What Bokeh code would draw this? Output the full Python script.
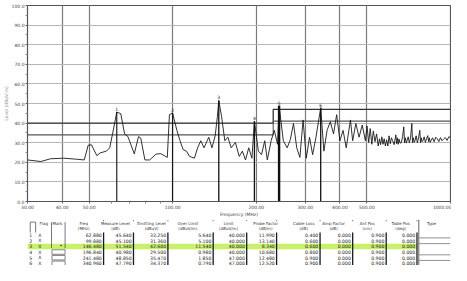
from bokeh.plotting import figure
from bokeh.layouts import column
from bokeh.models import Range1d, FixedTicker, PrintfTickFormatter, ColumnDataSource
from bokeh.core.properties import value
from bokeh.embed import file_html
from bokeh.resources import INLINE

# ---------------- data ----------------
trace_freq = [30.0, 33.5, 36.3, 40.4, 44.9, 48.0, 48.8, 49.6, 51.0, 53.3, 54.8, 57.7, 59.3, 60.9,
              62.88, 65.0, 67.1, 69.0, 72.7, 75.3, 76.7, 79.4, 82.6, 87.1, 90.6, 95.6, 97.3, 99.88,
              103.5, 106.2, 109.0, 112.0, 115.0, 119.7, 122.9, 126.2, 129.6, 134.8, 138.4, 142.2,
              144.8, 146.48, 149.9, 154.0, 158.0, 162.3, 168.1, 173.5, 178.1, 182.8, 187.8, 192.8,
              196.84, 203.4, 208.8, 214.4, 219.0, 226.1, 232.1, 238.4, 241.48, 250.1, 258.2, 265.0,
              272.1, 279.5, 287.0, 294.6, 302.6, 310.8, 318.9, 327.8, 340.96, 350.1, 359.4, 369.3,
              379.2, 389.2, 399.9, 410.4, 421.3, 436.3, 444.4, 456.3, 468.7, 481.1, 493.9, 500.5,
              507.5, 514.0, 520.8, 527.5, 534.7, 541.8, 549.3, 555.0, 560.0, 566.0, 571.5, 577.0,
              583.0, 589.0, 594.9, 601.0, 607.0, 613.0, 619.1, 627.0, 635.5, 640.0, 644.0, 648.0,
              652.4, 658.0, 665.0, 672.0, 678.9, 683.0, 688.0, 693.0, 697.5, 704.0, 711.0, 718.0,
              725.7, 730.0, 735.0, 740.0, 744.9, 752.0, 760.0, 768.0, 775.3, 780.0, 785.0, 790.0,
              795.9, 804.0, 812.0, 820.0, 828.2, 834.0, 840.0, 845.0, 850.7, 862.0, 873.0, 885.0,
              896.8, 908.0, 920.0, 932.0, 945.7, 958.0, 972.0, 986.0, 1000.0]
trace_level = [21.2, 20.4, 21.8, 22.1, 21.6, 21.2, 24.8, 28.7, 28.9, 23.4, 24.8, 25.7, 27.4, 35.4,
               45.6, 44.8, 34.5, 33.1, 24.3, 33.1, 32.4, 21.2, 21.2, 24.2, 24.4, 22.5, 44.3, 45.1,
               36.3, 31.0, 26.5, 25.7, 23.0, 22.1, 27.4, 31.0, 27.4, 32.8, 27.4, 33.6,
               43.4, 51.54, 43.4, 31.0, 32.8, 27.4, 30.1, 23.0, 25.7, 21.2, 27.4, 22.1,
               40.98, 25.7, 23.9, 31.0, 21.2, 31.0, 36.3, 29.2, 48.85, 31.0, 27.4, 31.5,
               39.8, 27.4, 22.5, 41.6, 22.1, 32.8, 23.9, 32.8, 47.79, 25.7, 36.3, 40.7,
               34.5, 44.3, 31.0, 36.3, 27.4, 41.6, 31.0, 39.8, 32.8, 39.0, 31.0, 38.5,
               30.0, 37.2, 29.2, 36.0, 30.5, 34.5, 28.3, 32.0, 29.0, 33.0, 29.2, 32.0,
               28.3, 31.5, 28.3, 33.5, 29.5, 32.5, 31.0, 29.0, 34.0, 29.5, 32.5, 29.2,
               31.9, 29.8, 30.0, 33.0, 38.1, 30.0, 32.5, 29.8, 31.0, 33.0, 30.0, 32.5,
               39.8, 30.0, 32.5, 30.2, 31.0, 33.5, 30.0, 32.8, 36.3, 30.0, 32.5, 30.5,
               31.0, 33.0, 30.2, 32.0, 33.6, 30.5, 32.5, 30.2, 31.0, 32.5, 30.5, 32.8,
               31.9, 30.6, 32.6, 31.0, 31.9, 32.6, 31.2, 33.0, 32.8]

limit_freq = [30.0, 230.0, 230.0, 1000.0]
limit_level = [40.0, 40.0, 47.0, 47.0]
margin_level = [34.0, 34.0, 41.0, 41.0]

x_ticks = [30, 40, 50, 100, 200, 300, 400, 500, 1000]
x_minor = [60, 70, 80, 90]
y_ticks = [0, 10, 20, 30, 40, 50, 60, 70, 80, 90, 100]
y_minor = [5, 15, 25, 35, 45, 55, 65, 75, 85, 95]

row_no = ["1", "2", "3", "4", "5", "6"]
row_flag = ["X", "X", "X", "X", "X", "X"]
tab_freq = [62.880, 99.880, 146.480, 196.840, 241.480, 340.960]
tab_level = [45.640, 45.100, 51.540, 40.980, 48.850, 47.790]
tab_reading = [33.250, 31.360, 42.600, 29.500, 35.470, 34.370]
tab_over = [5.640, 5.100, 11.540, 0.980, 1.850, 0.790]
tab_limit = [40.000, 40.000, 40.000, 40.000, 47.000, 47.000]
tab_probe = [11.990, 13.140, 8.340, 10.680, 12.480, 12.520]
tab_cable = [0.400, 0.600, 0.600, 0.800, 0.900, 0.900]
tab_amp = [0.000, 0.000, 0.000, 0.000, 0.000, 0.000]
tab_antpos = [0.900, 0.900, 0.900, 0.900, 0.900, 0.900]
tab_tablepos = [0.000, 0.000, 0.000, 0.000, 0.000, 0.000]
selected_row = 2

headers_1 = ["Freq", "Measure Level", "Emitting Level", "Over Limit", "Limit",
             "Probe Factor", "Cable Loss", "Amp Factor", "Ant Pos", "Table Pos"]
headers_2 = ["(MHz)", "(dB)", "(dBuV)", "(dBuV/m)", "(dBuV/m)", "(dB/m)", "(dB)", "(dB)", "(cm)", "(deg)"]

FONT = "DejaVu Sans"

# ---------------- spectrum plot ----------------
p = figure(width=451, height=219, x_axis_type="log",
           x_range=Range1d(30, 1000), y_range=Range1d(0, 100),
           output_backend="svg", toolbar_location=None,
           min_border_left=16, min_border_right=1, min_border_top=5, min_border_bottom=10)
p.background_fill_color = "white"
p.outline_line_color = "#555555"
p.outline_line_width = 1.2

p.xaxis.ticker = FixedTicker(ticks=x_ticks, minor_ticks=x_minor)
p.xaxis.formatter = PrintfTickFormatter(format="%.2f")
p.yaxis.ticker = FixedTicker(ticks=y_ticks, minor_ticks=y_minor)
p.yaxis.formatter = PrintfTickFormatter(format="%.1f")
for ax in (p.xaxis[0], p.yaxis[0]):
    ax.axis_line_color = "#555555"
    ax.major_tick_line_color = "#666666"
    ax.minor_tick_line_color = "#888888"
    ax.major_tick_out = 2
    ax.major_tick_in = 0
    ax.minor_tick_out = 2
    ax.minor_tick_in = 0
    ax.major_label_text_font_size = "4.5px"
    ax.major_label_text_color = "#444444"
    ax.major_label_text_font = FONT
    ax.major_label_standoff = 1
    ax.axis_label_text_font_size = "4.5px"
    ax.axis_label_text_font_style = "normal"
    ax.axis_label_text_font = FONT
    ax.axis_label_standoff = 0
p.xaxis.axis_label = "Frequency (MHz)"
p.xaxis.axis_label_text_color = "#444444"
p.yaxis.axis_label = "Level (dBuV/m)"
p.yaxis.axis_label_text_color = "#999999"

p.xgrid.grid_line_color = "#7a7a7a"
p.xgrid.grid_line_width = 1.2
p.ygrid.grid_line_color = "#b5b5b5"
p.ygrid.grid_line_width = 1.2

p.line(limit_freq, limit_level, line_color="#333333", line_width=1.3)
p.line(limit_freq, margin_level, line_color="#555555", line_width=1.1)

p.line(trace_freq, trace_level, line_color="#1a1a1a", line_width=0.9)

mk_src = ColumnDataSource(dict(f=tab_freq, lv=tab_level, base=[0.0] * len(tab_freq),
                               lab=row_no, w=[1.1, 1.1, 1.3, 1.3, 2.4, 1.3]))
p.segment(x0="f", y0="base", x1="f", y1="lv", source=mk_src, line_color="#111111", line_width="w")
p.text(x="f", y="lv", text="lab", source=mk_src, text_font_size="4.5px", text_align="center",
       text_baseline="bottom", y_offset=-1, text_color="#111111", text_font=value(FONT))

# ---------------- table ----------------
col_edge = [84, 117, 155, 205, 242, 275, 323, 359, 396, 430]
col_head = [62, 97, 137, 177, 222, 263, 305, 338, 375, 412]
row_y = [244.0, 250.5, 257.0, 263.5, 270.0, 276.5]
head_y1, head_y2 = 231.0, 236.5

t = figure(width=451, height=46, x_range=Range1d(0, 467), y_range=Range1d(279, 226),
           output_backend="svg", toolbar_location=None, min_border=0)
t.axis.visible = False
t.grid.visible = False
t.outline_line_color = None

# selected row highlight
sel = row_y[selected_row]
t.quad(left=[0], right=[430], top=[sel - 3.2], bottom=[sel + 3.2],
       fill_color="#c8f06a", line_color=None)

# header
t.text(x=col_head, y=[head_y1] * len(col_head), text=headers_1, text_font_size="4px",
       text_align="center", text_baseline="middle", text_color="#333333", text_font=value(FONT))
t.text(x=col_head, y=[head_y2] * len(col_head), text=headers_2, text_font_size="4px",
       text_align="center", text_baseline="middle", text_color="#333333", text_font=value(FONT))
t.text(x=[18, 33, 446], y=[head_y1] * 3, text=["Flag", "Mark", "Type"], text_font_size="4px",
       text_align="center", text_baseline="middle", text_color="#333333", text_font=value(FONT))

# header box lines / separators
t.segment(x0=[3, 3, 9, 26.5, 41.5] + col_edge, y0=[229, 229, 229, 229, 229] + [226.5] * len(col_edge),
          x1=[9, 3, 9, 26.5, 41.5] + col_edge, y1=[229, 241, 241, 259, 259] + [228] * len(col_edge),
          line_color="#555555", line_width=0.8)

# cell values
cols = [tab_freq, tab_level, tab_reading, tab_over, tab_limit, tab_probe,
        tab_cable, tab_amp, tab_antpos, tab_tablepos]
vx, vy, vt = [], [], []
for ci, vals in enumerate(cols):
    for ri, v in enumerate(vals):
        vx.append(col_edge[ci] - 2)
        vy.append(row_y[ri])
        vt.append("%.3f" % v)
t.text(x=vx, y=vy, text=vt, text_font_size="4.6px", text_align="right", text_baseline="middle",
       text_color="#222222", text_font=value(FONT))

# dark cell edges
t.segment(x0=col_edge, y0=[241] * len(col_edge), x1=col_edge, y1=[281] * len(col_edge),
          line_color="#1a1a1a", line_width=1.3)

# row number and flag
t.text(x=[2] * len(row_no), y=row_y, text=row_no, text_font_size="4.6px", text_align="left",
       text_baseline="middle", text_color="#222222", text_font=value(FONT))
t.text(x=[12] * len(row_flag), y=row_y, text=row_flag, text_font_size="4.6px", text_align="left",
       text_baseline="middle", text_color="#222222", text_font=value(FONT))

# mark column
t.text(x=[37], y=[row_y[selected_row]], text=["*"], text_font_size="5px", text_align="center",
       text_baseline="middle", text_color="#111111", text_font=value(FONT))
t.quad(left=[27, 27, 27], right=[41.5, 41.5, 41.5],
       top=[row_y[3] - 2.6, row_y[4] - 2.6, row_y[5] - 2.6],
       bottom=[row_y[3] + 2.6, row_y[4] + 2.6, row_y[5] + 2.6],
       fill_color="white", line_color="#666666", line_width=0.8)

# type column
t.segment(x0=[432], y0=[226], x1=[432], y1=[281], line_color="#555555", line_width=0.9)
ty = [row_y[0] + 3.2, row_y[2] - 3.2, row_y[3] + 3.2, row_y[4] + 3.2]
t.segment(x0=[432] * 4, y0=ty, x1=[467] * 4, y1=ty, line_color="#777777", line_width=0.8)

layout = column(p, t, spacing=0)
open("out.html", "w").write(file_html(layout, INLINE))
